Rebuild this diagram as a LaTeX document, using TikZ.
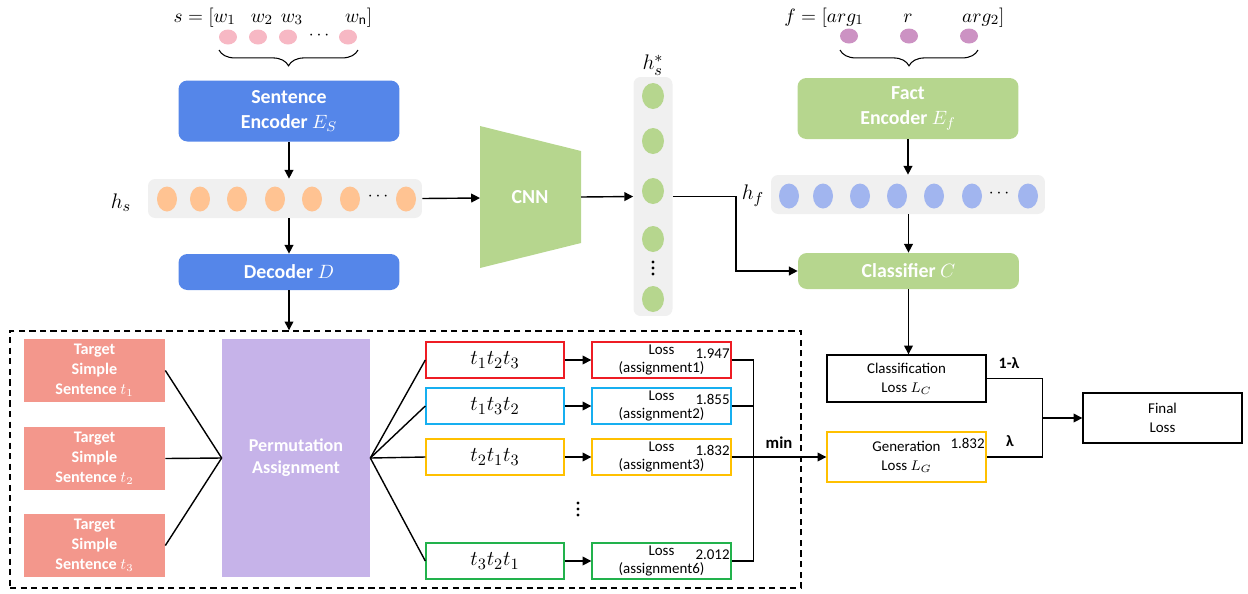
\documentclass[tikz,border=0pt]{standalone}
\usepackage{fontspec}
\setmainfont{Carlito}
\usetikzlibrary{arrows.meta,decorations.pathreplacing}
\definecolor{encblue}{HTML}{5586E9}
\definecolor{encgreen}{HTML}{B6D68E}
\definecolor{rowgray}{HTML}{F0F0F0}
\definecolor{hsdot}{HTML}{FFC392}
\definecolor{hfdot}{HTML}{A1B5EF}
\definecolor{pinkdot}{HTML}{F7B8C4}
\definecolor{purpledot}{HTML}{CC92C3}
\definecolor{salmon}{HTML}{F3978C}
\definecolor{lavender}{HTML}{C6B3E9}
\definecolor{bred}{HTML}{EE1C24}
\definecolor{bblue}{HTML}{16AFF0}
\definecolor{borange}{HTML}{FFC000}
\definecolor{bgreen}{HTML}{22B24C}

\begin{document}
\begin{tikzpicture}[x=0.02cm, y=-0.02cm,
    arr/.style={thick, -{Triangle[length=5pt,width=5pt]}},
    enc/.style={fill=#1, rounded corners=5pt, text=white, inner sep=0pt, align=center,
        font=\bfseries\fontsize{11.3}{13.8}\selectfont},
    row/.style={fill=rowgray, rounded corners=4pt, inner sep=0pt},
    tgt/.style={fill=salmon, text=white, inner sep=0pt, align=center, minimum width=2.82cm,
        minimum height=1.26cm, font=\bfseries\fontsize{9.2}{11.4}\selectfont},
    seq/.style={draw=#1, thick, inner sep=0pt, minimum width=2.76cm, minimum height=0.72cm,
        font=\fontsize{13}{15}\selectfont},
    loss/.style={draw=#1, thick, inner sep=0pt, align=center, minimum width=2.78cm,
        minimum height=0.72cm, font=\fontsize{8.5}{9.7}\selectfont},
    lossbox/.style={draw=#1, thick, inner sep=0pt, align=center, minimum width=3.18cm,
        font=\fontsize{8.5}{10.8}\selectfont},
    num/.style={anchor=north east, inner xsep=1pt, inner ysep=4pt, font=\fontsize{8.5}{10}\selectfont},
    math/.style={font=\fontsize{11}{13}\selectfont},
    vdot/.style={fill=black, radius=0.9pt},
    ]
    \useasboundingbox (0,0) rectangle (1248,593);

    % sentence input
    \node[math, anchor=base east] (sin) at (242,22) {$s=[w_1$};
    \node[math, anchor=base] (w2) at (262,22) {$w_2$};
    \node[math, anchor=base] (w3) at (292,22) {$w_3$};
    \node[math, anchor=base west] (wn) at (339,22) {$w_{\mathrm{n}}]$};
    \foreach \x in {228,258,288,348}
        \fill[pinkdot] (\x,37) ellipse [x radius=0.18cm, y radius=0.15cm];
    \node (sdots) at (319,36) {$\cdots$};
    \draw[decorate, decoration={brace, mirror, amplitude=9pt}, line width=0.6pt] (219,50) -- (358,50);

    \node[enc=encblue, minimum width=4.42cm, minimum height=1.22cm] (senc) at (289,111) {Sentence\\Encoder $E_S$};

    % h_s
    \node[row, minimum width=5.48cm, minimum height=0.78cm] (hsrow) at (285,198.5) {};
    \foreach \x in {167,200,237,275,312,350,406}
        \fill[hsdot] (\x,199) ellipse [x radius=0.2cm, y radius=0.25cm];
    \node (hsdots) at (378,197) {$\cdots$};
    \node[font=\fontsize{13}{15}\selectfont] (hslab) at (121,203) {$h_s$};

    \node[enc=encblue, minimum width=4.42cm, minimum height=0.72cm] (dec) at (289,272) {Decoder $D$};

    \draw[arr] (senc.south) -- (senc.south |- hsrow.north);
    \draw[arr] (dec.north |- hsrow.south) -- (dec.north);

    % CNN
    \fill[encgreen] (480,126) -- (581,151) -- (581,243) -- (480,268) -- cycle;
    \node[text=white, font=\bfseries\fontsize{11.3}{13}\selectfont] (cnn) at (530,197) {CNN};
    \coordinate (cnnin) at (480,198);
    \coordinate (cnnout) at (581,197);
    \draw[arr] (hsrow.east) -- (cnnin);

    % h_s^*
    \node[row, minimum width=0.78cm, minimum height=4.78cm] (hscol) at (653,196.5) {};
    \foreach \y in {96,141,191,239,299}
        \fill[encgreen] (653,\y) ellipse [x radius=0.22cm, y radius=0.26cm];
    \foreach \y in {262,268,274}
        \fill[vdot] (653,\y) circle;
    \node[font=\fontsize{13}{15}\selectfont] (hstar) at (653,65) {$h_s^*$};
    \draw[arr] (cnnout) -- (hscol.west);

    % fact input
    \node[math, anchor=base east] (fin) at (870,22) {$f=[arg_1$};
    \node[math, anchor=base] (rel) at (908,22) {$r$};
    \node[math, anchor=base west] (arg2) at (956,22) {$arg_2]$};
    \foreach \x in {849,909,969}
        \fill[purpledot] (\x,36) ellipse [x radius=0.18cm, y radius=0.15cm];
    \draw[decorate, decoration={brace, mirror, amplitude=9pt}, line width=0.6pt] (840,50) -- (978,50);

    \node[enc=encgreen, minimum width=4.42cm, minimum height=1.22cm] (fenc) at (908,108.5) {Fact\\Encoder $E_f$};

    % h_f
    \node[row, minimum width=5.48cm, minimum height=0.78cm] (hfrow) at (908,194.5) {};
    \foreach \x in {789,823,860,897,934,972,1028}
        \fill[hfdot] (\x,196) ellipse [x radius=0.2cm, y radius=0.25cm];
    \node (hfdots) at (999,194) {$\cdots$};
    \node[font=\fontsize{13}{15}\selectfont] (hflab) at (753,196) {$h_f$};

    \node[enc=encgreen, minimum width=4.42cm, minimum height=0.72cm] (cls) at (908.5,271) {Classifier $C$};

    \draw[arr] (fenc.south) -- (fenc.south |- hfrow.north);
    \draw[arr] (cls.north |- hfrow.south) -- (cls.north);
    \draw[arr] (hscol.east) -- ++(63,0) |- (cls.west);

    % losses
    \node[lossbox=black, minimum height=0.94cm] (closs) at (906.5,378.5) {Classification\\Loss $L_C$};
    \node[lossbox=borange, minimum height=1cm, label={[num]north east:1.832}] (gloss) at (906.5,457) {Generation\\Loss $L_G$};
    \node[lossbox=black, minimum height=1cm] (final) at (1162.5,418) {Final\\Loss};
    \draw[arr] (cls.south) -- (cls.south |- closs.north);
    \draw[thick] (closs.east) -- ++(56,0) |- (gloss.east);
    \coordinate (mix) at (1042,418);
    \draw[arr] (mix) -- (final.west);
    \node[font=\bfseries\fontsize{9}{11}\selectfont] (wc) at (1009,363) {1-λ};
    \node[font=\bfseries\fontsize{9}{11}\selectfont] (wg) at (1010,441) {λ};

    % permutation part
    \node[draw, line width=0.85pt, dash pattern=on 3.5pt off 2.5pt, minimum width=15.82cm,
        minimum height=5.14cm] (dbox) at (405.5,459.5) {};
    \draw[arr] (dec.south) -- (dec.south |- dbox.north);

    \node[tgt] (tgt1) at (94.5,370.5) {Target\\Simple\\Sentence $t_1$};
    \node[tgt] (tgt2) at (94.5,458.5) {Target\\Simple\\Sentence $t_2$};
    \node[tgt] (tgt3) at (94.5,545.5) {Target\\Simple\\Sentence $t_3$};
    \node[fill=lavender, text=white, inner sep=0pt, align=center, minimum width=2.96cm,
        minimum height=4.76cm, font=\bfseries\fontsize{10.3}{12.6}\selectfont] (perm) at (296,458) {Permutation\\Assignment};
    \foreach \i in {1,2,3}
        \draw[thick] (tgt\i.east) -- (perm.west);

    \node[seq=bred] (p1) at (495,360) {$t_1t_2t_3$};
    \node[seq=bblue] (p2) at (495,406) {$t_1t_3t_2$};
    \node[seq=borange] (p3) at (495,457) {$t_2t_1t_3$};
    \node[seq=bgreen] (p6) at (495,561) {$t_3t_2t_1$};
    \foreach \y in {503,509,515}
        \fill[vdot] (578,\y) circle;

    \node[loss=bred, label={[num]north east:1.947}] (l1) at (661.5,360) {Loss\\(assignment1)};
    \node[loss=bblue, label={[num]north east:1.855}] (l2) at (661.5,406) {Loss\\(assignment2)};
    \node[loss=borange, label={[num]north east:1.832}] (l3) at (661.5,457) {Loss\\(assignment3)};
    \node[loss=bgreen, label={[num]north east:2.012}] (l6) at (661.5,561) {Loss\\(assignment6)};

    \foreach \i in {1,2,3,6} {
        \draw[thick] (perm.east) -- (p\i.west);
        \draw[arr] (p\i.east) -- (l\i.west);
    }
    \draw[thick] (l1.east) -- ++(22,0) |- (l6.east);
    \draw[thick] (l2.east) -- ++(22,0);
    \draw[arr] (l3.east) -- (gloss.west);
    \node[font=\bfseries\fontsize{9.5}{11}\selectfont] (min) at (779,443) {min};
\end{tikzpicture}
\end{document}
